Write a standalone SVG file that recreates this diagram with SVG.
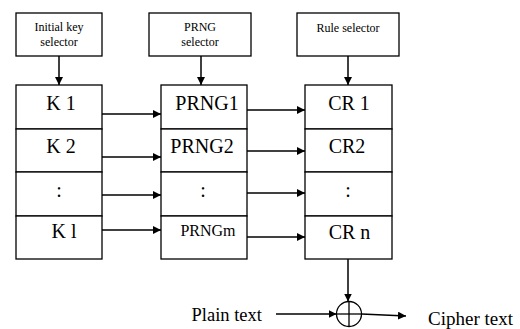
<svg xmlns="http://www.w3.org/2000/svg" width="520" height="329" viewBox="0 0 520 329">
<defs>
<marker id="ah" viewBox="0 0 10 10" refX="10" refY="5" markerWidth="8" markerHeight="8" markerUnits="userSpaceOnUse" orient="auto">
<path d="M0,0 L10,5 L0,10 Z" fill="#000"/>
</marker>
</defs>
<style>
.box{fill:#fff;stroke:#000;stroke-width:1.3}
.t{font-family:"Liberation Serif","Times New Roman",serif;fill:#000;text-anchor:middle}
.s{font-size:12px}
.m{font-size:20px}
.c{stroke:#000;stroke-width:1.5;fill:none}
.a{marker-end:url(#ah)}
</style>
<rect width="520" height="329" fill="#fff"/>
<g id="initial-key-selector">
<rect class="box" x="16" y="13" width="86" height="43"/>
<text class="t s" x="59" y="30.5">Initial key</text>
<text class="t s" x="59" y="45.5">selector</text>
</g>
<g id="prng-selector">
<rect class="box" x="149" y="13" width="102" height="43"/>
<text class="t s" x="200" y="30.5">PRNG</text>
<text class="t s" x="200" y="45.5">selector</text>
</g>
<g id="rule-selector">
<rect class="box" x="297" y="13" width="102" height="43"/>
<text class="t s" x="348" y="31.5">Rule selector</text>
</g>
<g id="k-column">
<rect class="box" x="16" y="85" width="86" height="44"/>
<rect class="box" x="16" y="129" width="86" height="43"/>
<rect class="box" x="16" y="172" width="86" height="44"/>
<rect class="box" x="16" y="216" width="86" height="43"/>
<text class="t m" x="61" y="110">K 1</text>
<text class="t m" x="61" y="153">K 2</text>
<text class="t m" x="59" y="197">:</text>
<text class="t m" x="64" y="238">K l</text>
</g>
<g id="prng-column">
<rect class="box" x="161" y="85" width="86" height="44"/>
<rect class="box" x="161" y="129" width="86" height="43"/>
<rect class="box" x="161" y="172" width="86" height="44"/>
<rect class="box" x="161" y="216" width="86" height="43"/>
<text class="t m" x="207" y="110">PRNG1</text>
<text class="t m" x="202" y="153">PRNG2</text>
<text class="t m" x="203" y="197">:</text>
<text class="t" style="font-size:16px" x="208" y="236">PRNGm</text>
</g>
<g id="cr-column">
<rect class="box" x="305" y="85" width="87" height="44"/>
<rect class="box" x="305" y="129" width="87" height="43"/>
<rect class="box" x="305" y="172" width="87" height="44"/>
<rect class="box" x="305" y="216" width="87" height="43"/>
<text class="t m" x="349" y="110">CR 1</text>
<text class="t m" x="347" y="153">CR2</text>
<text class="t m" x="348" y="197">:</text>
<text class="t m" x="349.5" y="239">CR n</text>
</g>
<g id="xor">
<circle cx="349" cy="314" r="12.5" fill="none" stroke="#000" stroke-width="1.3"/>
<line x1="349" y1="301.5" x2="349" y2="326.5" stroke="#000" stroke-width="1.3"/>
<line x1="336.5" y1="314" x2="361.5" y2="314" stroke="#000" stroke-width="1.3"/>
</g>
<g id="plain-text">
<text class="t" style="font-size:18.5px;text-anchor:start" x="191.5" y="321">Plain text</text>
</g>
<g id="cipher-text">
<text class="t" style="font-size:19px;text-anchor:start" x="428" y="325">Cipher text</text>
</g>
<g id="connectors">
<line class="c a" x1="59" y1="56" x2="59" y2="85"/>
<line class="c a" x1="201" y1="56" x2="201" y2="85"/>
<line class="c a" x1="348" y1="56" x2="348" y2="85"/>
<line class="c a" x1="102" y1="114" x2="161" y2="114"/>
<line class="c a" x1="102" y1="157" x2="161" y2="157"/>
<line class="c a" x1="102" y1="195" x2="161" y2="195"/>
<line class="c a" x1="102" y1="230" x2="161" y2="230"/>
<line class="c a" x1="247" y1="110" x2="305" y2="110"/>
<line class="c a" x1="247" y1="151" x2="305" y2="151"/>
<line class="c a" x1="247" y1="193" x2="305" y2="193"/>
<line class="c a" x1="247" y1="237" x2="305" y2="237"/>
<line class="c a" x1="348" y1="259" x2="348" y2="301.5"/>
<line class="c a" x1="276" y1="314" x2="336.5" y2="314"/>
<line class="c a" x1="361.5" y1="314" x2="406" y2="316"/>
</g>
</svg>
